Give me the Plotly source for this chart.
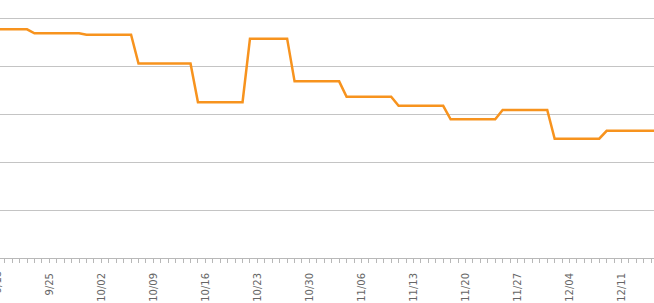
import pandas as pd
import plotly.graph_objects as go

start_date = "2017-09-18"
# daily values, 9/18 .. 12/16
values = [
    95.3, 95.3, 95.3, 95.3, 95.3,                 # 9/18-9/22
    93.6, 93.6, 93.6, 93.6, 93.6, 93.6, 93.6,     # 9/23-9/29
    93.0, 93.0, 93.0, 93.0, 93.0, 93.0, 93.0,     # 9/30-10/06
    81.0, 81.0, 81.0, 81.0, 81.0, 81.0, 81.0, 81.0,  # 10/07-10/14
    64.9, 64.9, 64.9, 64.9, 64.9, 64.9, 64.9,     # 10/15-10/21
    91.4, 91.4, 91.4, 91.4, 91.4, 91.4,           # 10/22-10/27
    73.6, 73.6, 73.6, 73.6, 73.6, 73.6, 73.6,     # 10/28-11/03
    67.2, 67.2, 67.2, 67.2, 67.2, 67.2, 67.2,     # 11/04-11/10
    63.4, 63.4, 63.4, 63.4, 63.4, 63.4, 63.4,     # 11/11-11/17
    57.8, 57.8, 57.8, 57.8, 57.8, 57.8, 57.8,     # 11/18-11/24
    61.7, 61.7, 61.7, 61.7, 61.7, 61.7, 61.7,     # 11/25-12/01
    49.7, 49.7, 49.7, 49.7, 49.7, 49.7, 49.7,     # 12/02-12/08
    53.0, 53.0, 53.0, 53.0, 53.0, 53.0, 53.0, 53.0,  # 12/09-12/16
]
dates = pd.date_range(start_date, periods=len(values), freq="D")

x_range = ["2017-09-18 08:43", "2017-12-15 08:50"]
y_range = [0, 107.5]
grid_vals = [0, 20, 40, 60, 80, 100]
cut_label = ("2017-09-18", "9/18")

tick_font = dict(family="DejaVu Sans", size=10, color="#666666")

fig = go.Figure()
fig.add_trace(go.Scatter(
    x=dates, y=values, mode="lines",
    line=dict(color="#F7931E", width=2.5),
    hoverinfo="skip",
))

fig.update_layout(
    width=654, height=303,
    margin=dict(l=0, r=0, t=0, b=45),
    paper_bgcolor="white", plot_bgcolor="white",
    showlegend=False,
    font=tick_font,
)
fig.update_xaxes(
    type="date", range=x_range,
    tickmode="linear", tick0="2017-09-18", dtick=7 * 86400000,
    tickformat="%-m/%d", tickangle=-90, ticklabelstandoff=6,
    ticks="outside", ticklen=4, tickcolor="#b8b8b8", tickwidth=1,
    minor=dict(ticks="outside", ticklen=4, tickcolor="#b8b8b8",
               dtick=86400000, tick0="2017-09-18", showgrid=False),
    showgrid=False, showline=True, linecolor="#b8b8b8", linewidth=1,
    zeroline=False, tickfont=tick_font,
)
fig.update_yaxes(
    range=y_range, tickmode="array", tickvals=grid_vals,
    showticklabels=False, showgrid=True, gridcolor="#c4c4c4", gridwidth=1,
    zeroline=False, showline=False,
)
# the first weekly label sits just off the left edge and is partly cut;
# place it in paper units derived from the axis range
r0, r1 = pd.Timestamp(x_range[0]), pd.Timestamp(x_range[1])
cut_x = (pd.Timestamp(cut_label[0]) - r0) / (r1 - r0)
fig.add_annotation(
    x=cut_x, y=0, xref="paper", yref="paper", text=cut_label[1],
    textangle=-90, showarrow=False, xanchor="center", yanchor="top",
    yshift=-11, font=tick_font,
)

fig.write_html("out.html")
